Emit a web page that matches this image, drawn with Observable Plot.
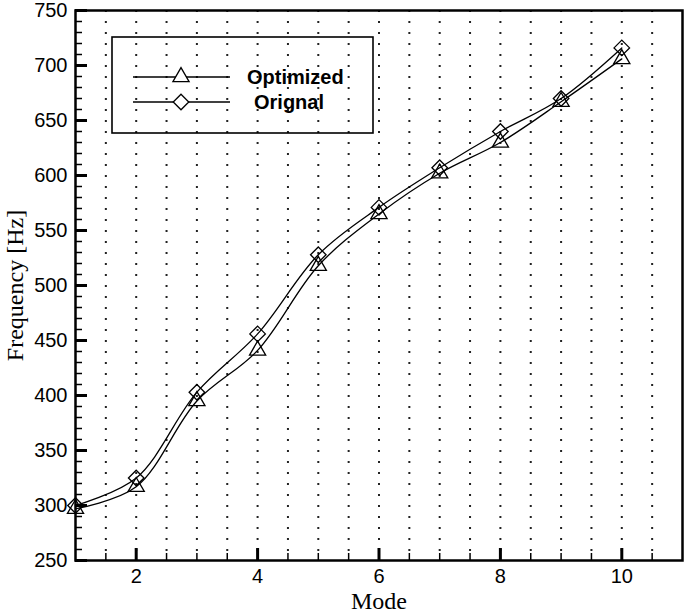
<!DOCTYPE html>
<html>
<head>
<meta charset="utf-8">
<script src="https://cdn.jsdelivr.net/npm/d3@7"></script>
<script src="https://cdn.jsdelivr.net/npm/@observablehq/plot@0.6"></script>
<style>
  html, body { margin: 0; padding: 0; background: white; }
  #chart { position: relative; width: 685px; height: 614px; }
</style>
</head>
<body>
<div id="chart"></div>
<script>
const modes = [1, 2, 3, 4, 5, 6, 7, 8, 9, 10];
const optimized = [297, 317, 395, 441, 518, 565, 602, 630, 667, 706];
const original = [300, 325, 403, 456, 528, 571, 607, 640, 670, 716];
const seriesNames = ["Optimized", "Orignal"];
const xTicks = [2, 4, 6, 8, 10];
const yTicks = [250, 300, 350, 400, 450, 500, 550, 600, 650, 700, 750];

const xMinor = d3.range(1.5, 10.51, 0.5).filter(v => !xTicks.includes(v));
const yMinor = d3.range(260, 750, 10).filter(v => !yTicks.includes(v));
const gridXs = d3.range(1.5, 10.51, 0.5);

const optData = modes.map((m, i) => ({mode: m, freq: optimized[i]}));
const origData = modes.map((m, i) => ({mode: m, freq: original[i]}));

const symTri = "triangle";
const symDia = "diamond2";
const serif = "'Liberation Serif', 'Times New Roman', serif";

const plot = Plot.plot({
  width: 685,
  height: 614,
  marginLeft: 75,
  marginTop: 10,
  marginRight: 3,
  marginBottom: 54,
  x: {domain: [1, 11], label: null},
  y: {domain: [250, 750], label: null},
  style: {fontFamily: "'Liberation Sans', Arial, sans-serif", fontSize: "20px", color: "black", background: "white"},
  marks: [
    Plot.gridX(gridXs, {stroke: "#222", strokeOpacity: 1, strokeWidth: 2, strokeDasharray: "2,9"}),
    Plot.line(origData, {x: "mode", y: "freq", curve: "catmull-rom", stroke: "black", strokeWidth: 1.3}),
    Plot.line(optData, {x: "mode", y: "freq", curve: "catmull-rom", stroke: "black", strokeWidth: 1.3}),
    Plot.dot(origData, {x: "mode", y: "freq", symbol: symDia, r: 7, stroke: "black", fill: "none", strokeWidth: 1.3}),
    Plot.dot(optData, {x: "mode", y: "freq", symbol: symTri, r: 6, stroke: "black", fill: "none", strokeWidth: 1.3}),
    Plot.axisX(xMinor, {tickSize: -7, tickFormat: () => "", strokeWidth: 1.5, label: null}),
    Plot.axisX(xTicks, {tickSize: -12, tickPadding: 20, strokeWidth: 3, fontSize: 20, label: null}),
    Plot.axisY(yMinor, {tickSize: -7, tickFormat: () => "", strokeWidth: 1.5, label: null}),
    Plot.axisY(yTicks, {tickSize: -12, tickPadding: 20, strokeWidth: 3, fontSize: 20, label: null}),
    Plot.frame({stroke: "black", strokeWidth: 2.5}),
    Plot.text(["Mode"], {frameAnchor: "bottom", dy: 48, fontFamily: serif, fontSize: 24, fill: "black"}),
    Plot.text(["Frequency [Hz]"], {frameAnchor: "left", dx: -60, rotate: -90, textAnchor: "middle", fontFamily: serif, fontSize: 24, fill: "black"})
  ]
});

document.getElementById("chart").appendChild(plot);

// Legend (drawn in pixel space inside the plot frame)
const svg = d3.select(plot);
const lg = svg.append("g").attr("class", "legend");
lg.append("rect").attr("x", 112).attr("y", 37).attr("width", 261).attr("height", 96)
  .attr("fill", "none").attr("stroke", "black").attr("stroke-width", 1.6);
const legendRows = [
  {name: seriesNames[0], sym: d3.symbolTriangle, size: Math.PI * 6 * 6, y: 77, tx: 247},
  {name: seriesNames[1], sym: d3.symbolDiamond2, size: Math.PI * 7 * 7, y: 102, tx: 254}
];
legendRows.forEach(r => {
  lg.append("line").attr("x1", 133).attr("x2", 230).attr("y1", r.y).attr("y2", r.y)
    .attr("stroke", "black").attr("stroke-width", 1.3);
  lg.append("path").attr("d", d3.symbol(r.sym, r.size)()).attr("transform", `translate(181,${r.y})`)
    .attr("fill", "white").attr("stroke", "black").attr("stroke-width", 1.3);
  lg.append("text").attr("x", r.tx).attr("y", r.y).attr("dy", "0.35em")
    .attr("text-anchor", "start")
    .attr("font-family", "'Liberation Sans', Arial, sans-serif").attr("font-weight", "bold")
    .attr("font-size", 20).attr("fill", "black").text(r.name);
});
</script>
</body>
</html>
